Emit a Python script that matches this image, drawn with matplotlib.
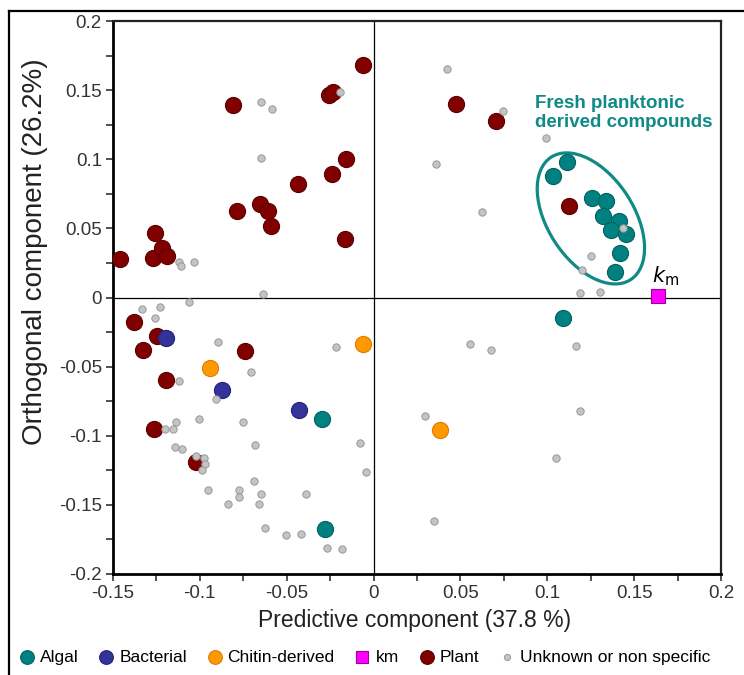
import numpy as np
import matplotlib
matplotlib.use("Agg")
import matplotlib.pyplot as plt
from matplotlib.patches import Ellipse
from matplotlib.lines import Line2D
from matplotlib.transforms import ScaledTranslation

plt.rcParams["font.family"] = ["Liberation Sans", "DejaVu Sans"]
plt.rcParams["axes.unicode_minus"] = False

# ── Scores ────────────────────────────────────────────────────────────────────
algal_x = [0.1111, 0.1034, 0.1255, 0.1339, 0.1320, 0.1410, 0.1368, 0.1456, 0.1421, 0.1387,
           0.1088, -0.0299, -0.0278]
algal_y = [0.0983, 0.0881, 0.0722, 0.0698, 0.0589, 0.0553, 0.0488, 0.0461, 0.0323, 0.0183,
           -0.0150, -0.0882, -0.1674]

bact_x = [-0.1193, -0.0872, -0.0431]
bact_y = [-0.0290, -0.0672, -0.0812]

chitin_x = [-0.0943, -0.0063, 0.0385]
chitin_y = [-0.0510, -0.0333, -0.0962]

km_x = [0.164]
km_y = [0.001]

plant_x = [-0.1460, -0.1259, -0.1268, -0.1217, -0.1191, -0.0810, -0.0789, -0.0655, -0.0607,
           -0.0588, -0.0437, -0.0259, -0.0234, -0.0237, -0.0161, -0.0167, -0.0061,
           0.0475, 0.0703, 0.1125,
           -0.1378, -0.1245, -0.1329, -0.0741, -0.1197, -0.1266, -0.1023]
plant_y = [0.0278, 0.0470, 0.0287, 0.0355, 0.0301, 0.1393, 0.0628, 0.0676, 0.0628,
           0.0519, 0.0819, 0.1466, 0.1490, 0.0891, 0.1002, 0.0420, 0.1683,
           0.1400, 0.1280, 0.0662,
           -0.0177, -0.0280, -0.0377, -0.0387, -0.0594, -0.0949, -0.1191]

unk_x = [-0.0650, -0.0582, -0.0195, -0.0650, -0.1121, -0.1109, -0.1036, -0.0636,
         0.0425, 0.0743, 0.0992, 0.0358, 0.0626, 0.1249, 0.1197, 0.1186, 0.1303, 0.1433,
         -0.1335, -0.1230, -0.1065, -0.1259, -0.0893, -0.0217, -0.0705, -0.1121, -0.0908,
         -0.1006, -0.0753, -0.1140, -0.1201, -0.1153, -0.0077, -0.1142, -0.1100, -0.0680,
         -0.1023, -0.0979, -0.0971, -0.0990, -0.0044, -0.0688, -0.0956, -0.0772, -0.0774,
         -0.0649, -0.0837, -0.0657, -0.0387, -0.0625, -0.0506, -0.0418, -0.0270, -0.0180,
         0.0557, 0.0676, 0.1165, 0.0295, 0.1186, 0.1048, 0.0345]
unk_y = [0.1413, 0.1360, 0.1490, 0.1012, 0.0258, 0.0229, 0.0254, 0.0026,
         0.1654, 0.1350, 0.1152, 0.0966, 0.0618, 0.0297, 0.0198, 0.0036, 0.0043, 0.0504,
         -0.0080, -0.0070, -0.0036, -0.0148, -0.0324, -0.0358, -0.0541, -0.0601, -0.0732,
         -0.0882, -0.0899, -0.0899, -0.0949, -0.0949, -0.1049, -0.1080, -0.1099, -0.1065,
         -0.1150, -0.1160, -0.1203, -0.1251, -0.1263, -0.1326, -0.1389, -0.1396, -0.1440,
         -0.1420, -0.1493, -0.1493, -0.1423, -0.1667, -0.1717, -0.1710, -0.1814, -0.1822,
         -0.0333, -0.0377, -0.0351, -0.0855, -0.0822, -0.1162, -0.1614]

ticks_x = [-0.15, -0.1, -0.05, 0, 0.05, 0.1, 0.15, 0.2]
ticks_y = [-0.2, -0.15, -0.1, -0.05, 0, 0.05, 0.1, 0.15, 0.2]

TEAL = "#0f8a87"

# ── Figure ────────────────────────────────────────────────────────────────────
fig = plt.figure(figsize=(7.44, 6.75), dpi=100)
ax = fig.add_axes([113 / 744, 1 - 574 / 675, 608 / 744, 553 / 675])

ax.axhline(0, color="black", lw=0.9, zorder=1)
ax.axvline(0, color="black", lw=0.9, zorder=1)

big = dict(s=135, linewidths=0.8, zorder=3)
ax.scatter(plant_x, plant_y, c="#800000", edgecolors="#5c0000", label="Plant", **big)
ax.scatter(algal_x, algal_y, c="#008080", edgecolors="#006262", label="Algal", **big)
ax.scatter(bact_x, bact_y, c="#333399", edgecolors="#22227a", label="Bacterial", **big)
ax.scatter(chitin_x, chitin_y, c="#ff9900", edgecolors="#e07b00", label="Chitin-derived", **big)
ax.scatter(km_x, km_y, c="#ff00ff", marker="s", s=95, edgecolors="#a000a0",
           linewidths=0.8, zorder=4, label="km")
ax.scatter(unk_x, unk_y, c="#c4c4c4", edgecolors="#999999", s=28, linewidths=0.7,
           zorder=5, label="Unknown or non specific")

# ellipse round the planktonic cluster (size in inches, centred in data coords)
ell = Ellipse((0, 0), 1.46, 0.86, angle=-57, fill=False, edgecolor=TEAL, lw=2.3,
              transform=fig.dpi_scale_trans + ScaledTranslation(0.1251, 0.0572, ax.transData),
              zorder=2)
ax.add_patch(ell)
ax.text(0.0930, 0.1335, "Fresh planktonic\nderived compounds", color=TEAL,
        fontsize=13.5, fontweight="bold", va="center", ha="left", linespacing=1.15)
ax.annotate(r"$k_\mathrm{m}$", (km_x[0], km_y[0]), xytext=(-5, 6), textcoords="offset points",
            fontsize=15, ha="left", va="bottom")

ax.set_xlim(-0.15, 0.2)
ax.set_ylim(-0.2, 0.2)
ax.set_xticks(ticks_x)
ax.set_yticks(ticks_y)
ax.set_xticklabels([f"{t:g}" for t in ticks_x])
ax.set_yticklabels([f"{t:g}" for t in ticks_y])
ax.set_xticks(np.arange(-0.125, 0.2, 0.05), minor=True)
ax.set_yticks(np.arange(-0.175, 0.2, 0.05), minor=True)
ax.tick_params(which="both", direction="out", length=5, width=1.2, color="#333333")
ax.tick_params(which="major", labelsize=13.5, labelcolor="#333333", pad=3)

for side in ["left", "bottom"]:
    ax.spines[side].set_linewidth(2.0)
    ax.spines[side].set_color("black")
for side in ["top", "right"]:
    ax.spines[side].set_linewidth(1.6)
    ax.spines[side].set_color("#222222")

fig.text(415 / 744, 1 - 620 / 675, "Predictive component (37.8 %)", fontsize=16.5,
         ha="center", va="center", color="#222222")
fig.text(35 / 744, 1 - 252 / 675, "Orthogonal component (26.2%)", fontsize=20,
         ha="center", va="center", rotation=90, color="#222222")

handles, labels = ax.get_legend_handles_labels()
order = ["Algal", "Bacterial", "Chitin-derived", "km", "Plant", "Unknown or non specific"]
hmap = dict(zip(labels, handles))
fig.legend([hmap[k] for k in order], order, loc="center", bbox_to_anchor=(365 / 744, 1 - 657 / 675),
           ncol=6, frameon=False, fontsize=12.5, handlelength=0.8, handletextpad=0.35,
           columnspacing=1.2, markerscale=0.85, borderaxespad=0, borderpad=0)

# outer frame (only left and top visible in the original crop)
fig.add_artist(Line2D([9 / 744, 9 / 744], [0, 1 - 11 / 675], color="black", lw=1.6))
fig.add_artist(Line2D([9 / 744, 1], [1 - 11 / 675, 1 - 11 / 675], color="black", lw=1.6))

fig.savefig("out.png", dpi=100)
